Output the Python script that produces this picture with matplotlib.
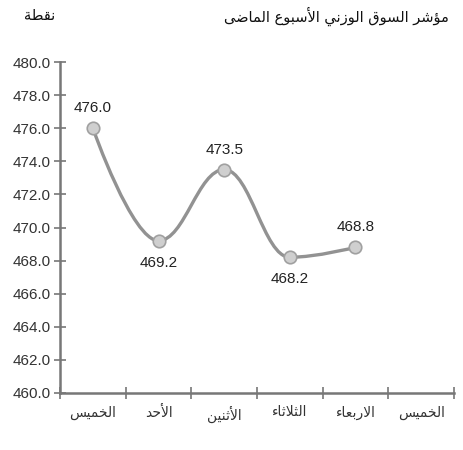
import numpy as np
import matplotlib
matplotlib.use("Agg")
import matplotlib.pyplot as plt
from matplotlib.path import Path
from matplotlib.patches import PathPatch

# ---------------- data ----------------
categories = ["الخميس", "الأحد", "الأثنين", "الثلاثاء", "الاربعاء", "الخميس"]
values = [476.0, 469.2, 473.5, 468.2, 468.8]
value_labels = ["476.0", "469.2", "473.5", "468.2", "468.8"]
label_above = [True, False, True, False, True]
y_ticks = [460, 462, 464, 466, 468, 470, 472, 474, 476, 478, 480]
title_text = "مؤشر السوق الوزني الأسبوع الماضى"
unit_text = "نقطة"

# ---------------- minimal Arabic shaping ----------------
FORMS = {
    'ء': (0xFE80, None, None, None),
    'آ': (0xFE81, 0xFE82, None, None),
    'أ': (0xFE83, 0xFE84, None, None),
    'ؤ': (0xFE85, 0xFE86, None, None),
    'إ': (0xFE87, 0xFE88, None, None),
    'ئ': (0xFE89, 0xFE8A, 0xFE8B, 0xFE8C),
    'ا': (0xFE8D, 0xFE8E, None, None),
    'ب': (0xFE8F, 0xFE90, 0xFE91, 0xFE92),
    'ة': (0xFE93, 0xFE94, None, None),
    'ت': (0xFE95, 0xFE96, 0xFE97, 0xFE98),
    'ث': (0xFE99, 0xFE9A, 0xFE9B, 0xFE9C),
    'ج': (0xFE9D, 0xFE9E, 0xFE9F, 0xFEA0),
    'ح': (0xFEA1, 0xFEA2, 0xFEA3, 0xFEA4),
    'خ': (0xFEA5, 0xFEA6, 0xFEA7, 0xFEA8),
    'د': (0xFEA9, 0xFEAA, None, None),
    'ذ': (0xFEAB, 0xFEAC, None, None),
    'ر': (0xFEAD, 0xFEAE, None, None),
    'ز': (0xFEAF, 0xFEB0, None, None),
    'س': (0xFEB1, 0xFEB2, 0xFEB3, 0xFEB4),
    'ش': (0xFEB5, 0xFEB6, 0xFEB7, 0xFEB8),
    'ص': (0xFEB9, 0xFEBA, 0xFEBB, 0xFEBC),
    'ض': (0xFEBD, 0xFEBE, 0xFEBF, 0xFEC0),
    'ط': (0xFEC1, 0xFEC2, 0xFEC3, 0xFEC4),
    'ظ': (0xFEC5, 0xFEC6, 0xFEC7, 0xFEC8),
    'ع': (0xFEC9, 0xFECA, 0xFECB, 0xFECC),
    'غ': (0xFECD, 0xFECE, 0xFECF, 0xFED0),
    'ف': (0xFED1, 0xFED2, 0xFED3, 0xFED4),
    'ق': (0xFED5, 0xFED6, 0xFED7, 0xFED8),
    'ك': (0xFED9, 0xFEDA, 0xFEDB, 0xFEDC),
    'ل': (0xFEDD, 0xFEDE, 0xFEDF, 0xFEE0),
    'م': (0xFEE1, 0xFEE2, 0xFEE3, 0xFEE4),
    'ن': (0xFEE5, 0xFEE6, 0xFEE7, 0xFEE8),
    'ه': (0xFEE9, 0xFEEA, 0xFEEB, 0xFEEC),
    'و': (0xFEED, 0xFEEE, None, None),
    'ى': (0xFEEF, 0xFEF0, 0xFBE8, 0xFBE9),
    'ي': (0xFEF1, 0xFEF2, 0xFEF3, 0xFEF4),
}
LAM_ALEF = {'آ': (0xFEF5, 0xFEF6), 'أ': (0xFEF7, 0xFEF8),
            'إ': (0xFEF9, 0xFEFA), 'ا': (0xFEFB, 0xFEFC)}


def shape(text):
    units = []
    i = 0
    while i < len(text):
        c = text[i]
        if c == 'ل' and i + 1 < len(text) and text[i + 1] in LAM_ALEF:
            f = LAM_ALEF[text[i + 1]]
            units.append(('LA', (f[0], f[1], None, None)))
            i += 2
        else:
            units.append((c, FORMS.get(c)))
            i += 1
    out = []
    for k, (c, f) in enumerate(units):
        if f is None:
            out.append(c)
            continue
        prev = units[k - 1][1] if k > 0 else None
        nxt = units[k + 1][1] if k + 1 < len(units) else None
        join_prev = prev is not None and prev[2] is not None and f[1] is not None
        join_next = nxt is not None and f[2] is not None and nxt[1] is not None
        if join_prev and join_next:
            cp = f[3]
        elif join_prev:
            cp = f[1]
        elif join_next:
            cp = f[2]
        else:
            cp = f[0]
        out.append(chr(cp))
    return ''.join(out)[::-1]


# ---------------- figure ----------------
plt.rcParams['font.family'] = ['Liberation Sans', 'DejaVu Sans']
fig = plt.figure(figsize=(4.64, 4.5), dpi=100)
ax = fig.add_axes([60 / 464, 57 / 450, 394 / 464, 331 / 450])

x = np.arange(len(values), dtype=float)
y = np.array(values, dtype=float)

# smooth spline (Highcharts-like control points)
n = len(x)
lc = [(x[i], y[i]) for i in range(n)]
rc = [(x[i], y[i]) for i in range(n)]
s, d = 1.5, 2.5
for i in range(1, n - 1):
    lx, ly = x[i - 1], y[i - 1]
    nx, ny = x[i + 1], y[i + 1]
    px, py = x[i], y[i]
    lcx = (s * px + lx) / d
    lcy = (s * py + ly) / d
    rcx = (s * px + nx) / d
    rcy = (s * py + ny) / d
    corr = ((rcy - lcy) * (rcx - px)) / (rcx - lcx) + py - rcy
    lcy += corr
    rcy += corr
    if lcy > ly and lcy > py:
        lcy = max(ly, py); rcy = 2 * py - lcy
    elif lcy < ly and lcy < py:
        lcy = min(ly, py); rcy = 2 * py - lcy
    if rcy > ny and rcy > py:
        rcy = max(ny, py); lcy = 2 * py - rcy
    elif rcy < ny and rcy < py:
        rcy = min(ny, py); lcy = 2 * py - rcy
    lc[i] = (lcx, lcy)
    rc[i] = (rcx, rcy)

verts = [(x[0], y[0])]
codes = [Path.MOVETO]
for i in range(1, n):
    verts += [rc[i - 1], lc[i], (x[i], y[i])]
    codes += [Path.CURVE4] * 3
ax.add_patch(PathPatch(Path(verts, codes), facecolor='none',
                       edgecolor='#929292', lw=2.4, capstyle='round', zorder=2))

ax.plot(x, y, linestyle='none', marker='o', markersize=9,
        markerfacecolor='#cfcfcf', markeredgecolor='#a0a0a0',
        markeredgewidth=1.2, zorder=3)

for xi, yi, lab, above in zip(x, y, value_labels, label_above):
    off = 20 if above else -22
    ax.annotate(lab, (xi, yi), xytext=(0, off), textcoords='offset pixels',
                ha='center', va='center', fontsize=11, color='#222222')

ax.set_xlim(-0.5, len(categories) - 0.5)
ax.set_ylim(460, 480)
ax.set_yticks(y_ticks)
ax.set_yticklabels([f"{v:.1f}" for v in y_ticks], fontsize=11, color='#333333')

ax.set_xticks(np.arange(len(categories) + 1) - 0.5)
ax.set_xticklabels([])
ax.set_xticks(np.arange(len(categories)), minor=True)
ax.set_xticklabels([shape(c) for c in categories], minor=True,
                   fontsize=10, color='#333333', family=['DejaVu Sans'])
ax.tick_params(axis='x', which='minor', length=0, pad=9)
ax.tick_params(axis='x', which='major', direction='inout', length=8,
               width=1.2, color='#777777')
ax.tick_params(axis='y', direction='inout', length=8, width=1.2,
               color='#777777', pad=3)

for sp in ['top', 'right']:
    ax.spines[sp].set_visible(False)
for sp in ['left', 'bottom']:
    ax.spines[sp].set_color('#777777')
    ax.spines[sp].set_linewidth(1.8)

fig.text(449 / 464, 1 - 16 / 450, shape(title_text), ha='right', va='center',
         fontsize=10.5, color='#111111', family=['DejaVu Sans'])
fig.text(40 / 464, 1 - 15 / 450, shape(unit_text), ha='center', va='center',
         fontsize=10.5, color='#111111', family=['DejaVu Sans'])

fig.savefig('out.png', dpi=100)
